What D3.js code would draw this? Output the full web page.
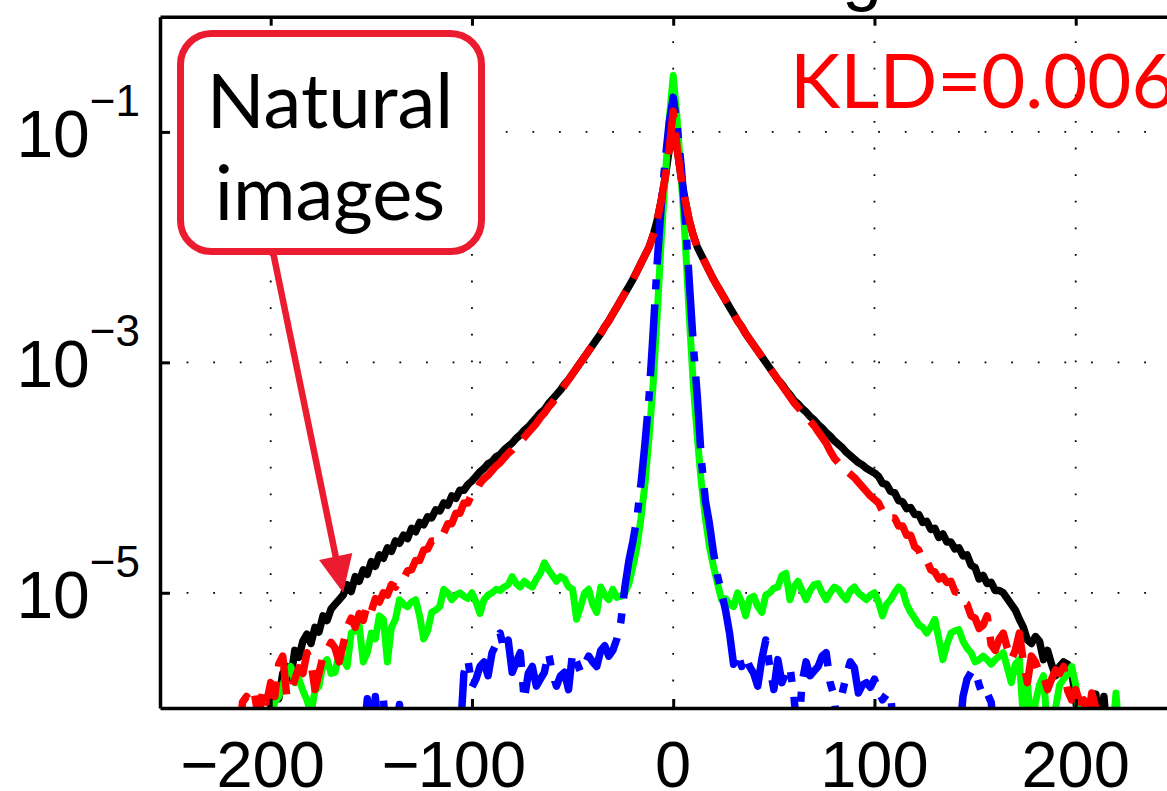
<!DOCTYPE html>
<html>
<head>
<meta charset="utf-8">
<script src="https://cdn.jsdelivr.net/npm/d3@7"></script>
<style>
  html, body { margin: 0; padding: 0; background: #fff; overflow: hidden; }
  svg { display: block; }
</style>
</head>
<body>
<svg id="chart" width="1167" height="791"></svg>
<script>
// Histogram densities of horizontal gradients, stored as log10(density),
// one bin every 2 grey levels. null = empty bin (no line drawn).
const binStep = 2;

// Natural images (black, solid)
const naturalStart = -202;
const naturalLog10 = [
  -6.3,-6.0,-5.84,-5.92,-5.7,-5.64,-5.74,-5.5,-5.56,-5.42,
  -5.36,-5.44,-5.3,-5.34,-5.2,-5.24,-5.14,-5.1,-5.06,-5.02,
  -4.93,-4.99,-4.86,-4.9,-4.8,-4.84,-4.73,-4.77,-4.67,-4.7,
  -4.61,-4.64,-4.55,-4.57,-4.5,-4.53,-4.44,-4.47,-4.39,-4.41,
  -4.34,-4.35,-4.28,-4.29,-4.22,-4.24,-4.16,-4.18,-4.11,-4.11,
  -4.06,-4.03,-3.99,-3.95,-3.92,-3.88,-3.86,-3.82,-3.8,-3.76,
  -3.73,-3.7,-3.66,-3.63,-3.59,-3.56,-3.52,-3.48,-3.44,-3.41,
  -3.36,-3.32,-3.28,-3.24,-3.19,-3.15,-3.1,-3.05,-3.0,-2.95,
  -2.9,-2.85,-2.8,-2.75,-2.69,-2.64,-2.58,-2.52,-2.46,-2.4,
  -2.34,-2.28,-2.21,-2.14,-2.07,-2.0,-1.9,-1.77,-1.6,-1.4,
  -1.15,
  -0.87,
  -1.15,-1.4,-1.6,-1.77,-1.9,-2.0,-2.07,-2.14,-2.21,-2.28,
  -2.34,-2.4,-2.46,-2.52,-2.58,-2.64,-2.69,-2.75,-2.8,-2.85,
  -2.9,-2.95,-3.0,-3.05,-3.1,-3.15,-3.19,-3.24,-3.28,-3.33,
  -3.36,-3.4,-3.43,-3.47,-3.5,-3.54,-3.57,-3.61,-3.64,-3.68,
  -3.71,-3.74,-3.78,-3.81,-3.84,-3.87,-3.89,-3.92,-3.94,-3.96,
  -3.99,-4.05,-4.06,-4.12,-4.13,-4.2,-4.21,-4.27,-4.26,-4.32,
  -4.32,-4.39,-4.38,-4.45,-4.44,-4.52,-4.49,-4.56,-4.56,-4.62,
  -4.61,-4.68,-4.67,-4.76,-4.78,-4.88,-4.85,-4.92,-4.91,-4.98,
  -4.98,-5.0,-5.05,-5.1,-5.15,-5.23,-5.3,-5.41,-5.44,-5.38,
  -5.42,-5.58,-5.5,-5.62,-5.72,-5.64,-5.6,-5.62,-5.68,-5.93,
  -6.2,-6.3,-6.2,-5.95,-5.88,-6.3,-5.9,-6.3
];

// Red model (dashed)
const redStart = -216;
const redLog10 = [
  -6.3,-5.95,-5.9,-5.95,-5.88,-6.1,-5.85,-5.95,-5.78,-5.9,
  -5.62,-5.55,-5.9,-5.85,-5.75,-5.65,-5.7,-5.52,-5.6,-5.84,
  -5.7,-5.55,-5.5,-5.43,-5.48,-5.6,-5.45,-5.3,-5.22,-5.3,
  -5.18,-5.24,-5.1,-5.16,-5.05,-5.08,-5.0,-5.02,-4.93,-4.95,
  -4.88,-4.88,-4.81,-4.8,-4.72,-4.72,-4.63,-4.62,-4.55,-4.55,
  -4.48,-4.48,-4.4,-4.4,-4.31,-4.31,-4.22,-4.22,-4.14,-4.12,
  -4.05,-4.01,-3.98,-3.94,-3.9,-3.87,-3.83,-3.79,-3.76,-3.72,
  -3.69,-3.65,-3.61,-3.57,-3.53,-3.48,-3.44,-3.39,-3.35,-3.3,
  -3.25,-3.2,-3.15,-3.1,-3.05,-3.0,-2.95,-2.9,-2.85,-2.8,
  -2.75,-2.69,-2.64,-2.58,-2.52,-2.46,-2.4,-2.34,-2.28,-2.21,
  -2.14,-2.07,-2.0,-1.9,-1.77,-1.6,-1.4,-1.15,
  -0.82,
  -1.15,-1.4,-1.6,-1.77,-1.9,-2.0,-2.07,-2.14,-2.21,-2.28,
  -2.34,-2.4,-2.46,-2.52,-2.58,-2.64,-2.69,-2.75,-2.8,-2.85,
  -2.9,-2.95,-3.0,-3.05,-3.1,-3.15,-3.2,-3.25,-3.3,-3.35,
  -3.39,-3.43,-3.47,-3.51,-3.55,-3.6,-3.65,-3.7,-3.77,-3.83,
  -3.87,-3.9,-3.94,-3.97,-4.0,-4.04,-4.08,-4.12,-4.16,-4.19,
  -4.22,-4.29,-4.29,-4.35,-4.35,-4.42,-4.42,-4.5,-4.5,-4.6,
  -4.63,-4.72,-4.72,-4.8,-4.82,-4.88,-4.86,-4.91,-4.9,-4.99,
  -5.0,-5.08,-5.1,-5.2,-5.22,-5.31,-5.28,-5.2,-5.45,-5.5,
  -5.4,-5.35,-5.48,-5.58,-5.5,-5.35,-5.6,-5.78,-5.55,-5.6,
  -5.7,-5.72,-5.84,-5.75,-5.67,-5.7,-5.64,-5.85,-5.93,-5.84,
  -5.95,-5.93,-6.1,-5.87,-6.0,-6.3
];

// Green model (solid)
const greenStart = -202;
const greenLog10 = [
  -6.3,-6.1,-5.95,-5.9,-5.8,-5.7,-5.64,-5.78,-5.75,-5.85,
  -5.93,-6.05,-5.85,-5.81,-5.62,-5.58,-5.7,-5.69,-5.52,-5.58,
  -5.64,-5.35,-5.33,-5.29,-5.6,-5.52,-5.35,-5.4,-5.2,-5.23,
  -5.6,-5.3,-5.23,-5.06,-5.1,-5.12,-5.08,-5.06,-5.2,-5.4,
  -5.33,-5.17,-5.15,-5.12,-4.97,-5.0,-5.06,-5.02,-5.0,-5.03,
  -5.05,-5.0,-5.08,-5.18,-5.06,-5.02,-5.0,-4.97,-4.98,-4.95,
  -4.93,-4.86,-4.92,-4.95,-4.9,-4.93,-4.95,-4.88,-4.83,-4.74,
  -4.8,-4.85,-4.9,-4.86,-4.88,-4.95,-4.97,-5.23,-5.12,-5.0,
  -4.97,-5.1,-5.17,-4.95,-5.02,-5.06,-4.97,-5.04,-5.03,-5.0,
  -4.92,-4.77,-4.6,-4.35,-4.05,-3.65,-3.2,-2.6,-1.95,-1.4,
  -0.9,
  -0.51,
  -0.9,-1.4,-1.95,-2.6,-3.2,-3.65,-4.05,-4.35,-4.6,-4.77,
  -4.92,-5.06,-5.05,-5.1,-5.12,-5.0,-5.08,-5.2,-5.05,-5.03,
  -5.12,-5.17,-5.02,-5.0,-4.96,-4.95,-4.85,-4.83,-5.06,-4.95,
  -4.9,-4.98,-5.06,-4.98,-4.93,-4.92,-5.0,-5.06,-5.0,-4.95,
  -4.97,-5.02,-5.06,-4.98,-4.95,-5.0,-5.03,-5.06,-5.02,-5.0,
  -5.08,-5.2,-5.1,-5.06,-5.0,-4.95,-4.98,-5.1,-5.17,-5.22,
  -5.28,-5.3,-5.35,-5.3,-5.23,-5.4,-5.58,-5.45,-5.35,-5.33,
  -5.32,-5.42,-5.48,-5.52,-5.6,-5.58,-5.55,-5.58,-5.62,-5.58,
  -5.55,-5.52,-5.65,-5.78,-5.62,-5.58,-6.1,-5.78,-6.2,-5.95,
  -5.8,-5.72,-6.2,-6.3,-6.0,-5.8,-5.75,-5.7,-5.64,-5.8,
  -6.1,-6.3,null,null,null,null,null,null,-6.3,-5.87,
  -6.3
];

// Blue model (dash-dot)
const blueStart = -156;
const blueLog10 = [
  null,-6.3,-5.92,-6.3,-5.9,-6.3,-5.93,-6.3,null,-6.3,
  -5.97,-6.3,null,null,null,null,null,null,null,null,
  null,null,null,null,null,-6.3,-5.7,-5.58,-5.82,-5.75,
  -5.64,-5.6,-5.72,-5.52,-5.45,-5.35,-5.5,-5.41,-5.69,-5.6,
  -5.52,-5.93,-5.7,-5.64,-5.81,-5.75,-5.69,-5.52,-5.7,-5.81,
  -5.72,-5.69,-5.84,-5.52,-5.6,-5.69,-5.62,-5.55,-5.6,-5.64,
  -5.5,-5.46,-5.55,-5.5,-5.4,-5.25,-4.95,-4.72,-4.55,-4.35,
  -4.05,-3.7,-3.3,-2.75,-2.15,-1.65,-1.25,-0.92,
  -0.70,
  -0.95,-1.3,-1.75,-2.3,-2.85,-3.3,-3.85,-4.2,-4.4,-4.65,
  -4.85,-5.0,-5.15,-5.35,-5.62,-5.52,-5.64,-5.55,-5.64,-5.7,
  -5.81,-5.58,-5.41,-5.64,-5.84,-5.58,-5.78,-5.7,-5.64,-5.9,
  -6.3,-5.78,-5.6,-5.72,-5.68,-5.64,-5.55,-5.52,-5.78,-5.9,
  -6.3,-5.87,-5.72,-5.6,-5.65,-5.87,-5.8,-5.78,-5.82,-5.75,
  -5.85,-5.93,-5.88,-5.87,-6.3,null,null,null,null,null,
  null,null,null,null,null,null,null,null,null,null,
  -6.3,-5.9,-5.75,-5.69,-5.67,-5.8,-5.9,-5.87,-5.95,-6.3
];

const xDomain = [-255, 255];
const yDomain = [1e-6, 1];
const xTicks = [-200, -100, 0, 100, 200];
const yTickExponents = [-1, -3, -5];
const calloutLines = ["Natural", "images"];
const calloutTarget = { g: -164, p: 1e-5 };
const kldLabel = "KLD=0.006";
const titleLabel = "Gradient histogram";

// ---------------------------------------------------------------------------
const svg = d3.select("#chart");
const plot = { left: 160, right: 1186.4, top: 16.7, bottom: 708 };
const x = d3.scaleLinear().domain(xDomain).range([plot.left, plot.right]);
const y = d3.scaleLog().domain(yDomain).range([plot.bottom, plot.top]);

svg.append("rect").attr("width", 1167).attr("height", 791).attr("fill", "#fff");

svg.append("defs").append("clipPath").attr("id", "plot-clip")
  .append("rect")
  .attr("x", plot.left).attr("y", plot.top)
  .attr("width", plot.right - plot.left).attr("height", plot.bottom - plot.top);

// Dotted grid at the labelled ticks
const grid = svg.append("g").attr("stroke", "#000").attr("stroke-width", 1.8)
  .attr("stroke-dasharray", "1.8 24.8").attr("fill", "none");
xTicks.forEach(t => {
  grid.append("line").attr("x1", x(t)).attr("x2", x(t))
    .attr("y1", plot.bottom).attr("y2", plot.top);
});
yTickExponents.forEach(e => {
  grid.append("line").attr("x1", plot.left).attr("x2", plot.right)
    .attr("y1", y(Math.pow(10, e))).attr("y2", y(Math.pow(10, e)));
});

// Curves
function toPoints(start, logs) {
  return logs.map((v, i) => ({ g: start + i * binStep, p: v == null ? null : Math.pow(10, v) }));
}
const line = d3.line()
  .defined(d => d.p != null)
  .x(d => x(d.g))
  .y(d => y(d.p));

const series = [
  { start: naturalStart, logs: naturalLog10, color: "#000000", width: 7.5, dash: null },
  { start: greenStart,   logs: greenLog10,   color: "#00ff00", width: 7,   dash: null },
  { start: blueStart,    logs: blueLog10,    color: "#0000ff", width: 7.5, dash: "72 15 10 15" },
  { start: redStart,     logs: redLog10,     color: "#ff0000", width: 7.5, dash: "50 15" }
];

const curves = svg.append("g").attr("clip-path", "url(#plot-clip)");
series.forEach(s => {
  curves.append("path")
    .datum(toPoints(s.start, s.logs))
    .attr("d", line)
    .attr("fill", "none")
    .attr("stroke", s.color)
    .attr("stroke-width", s.width)
    .attr("stroke-linejoin", "round")
    .attr("stroke-linecap", s.dash ? "butt" : "round")
    .attr("stroke-dasharray", s.dash);
});

// Axes (inward ticks, labels drawn separately)
function styleAxis(g) {
  g.select(".domain").attr("stroke", "#000").attr("stroke-width", 3.5);
  g.selectAll(".tick line").attr("stroke", "#000").attr("stroke-width", 3);
  g.selectAll(".tick text").remove();
}
svg.append("g").attr("transform", `translate(0,${plot.bottom})`)
  .call(d3.axisBottom(x).tickValues(xTicks).tickSize(-9).tickSizeOuter(0).tickFormat(""))
  .call(styleAxis);
svg.append("g").attr("transform", `translate(0,${plot.top})`)
  .call(d3.axisTop(x).tickValues(xTicks).tickSize(-9).tickSizeOuter(0).tickFormat(""))
  .call(styleAxis);
svg.append("g").attr("transform", `translate(${plot.left},0)`)
  .call(d3.axisLeft(y).tickValues(yTickExponents.map(e => Math.pow(10, e))).tickSize(-10).tickSizeOuter(0).tickFormat(""))
  .call(styleAxis);

// Tick labels
const tickFont = "'Liberation Sans', Arial, Helvetica, sans-serif";
const xLabels = svg.append("g").attr("font-family", tickFont).attr("font-size", 65).attr("fill", "#000");
xTicks.forEach(t => {
  const digits = xLabels.append("text")
    .attr("x", x(t)).attr("y", 787).attr("text-anchor", "middle")
    .text(String(Math.abs(t)));
  if (t < 0) {
    const w = digits.node().getComputedTextLength();
    xLabels.append("text")
      .attr("x", x(t) - w / 2 + 2).attr("y", 787).attr("text-anchor", "end")
      .text("\u2212");
  }
});

const yLabels = svg.append("g").attr("font-family", tickFont).attr("font-size", 66).attr("fill", "#000");
yTickExponents.forEach(e => {
  const t = yLabels.append("text")
    .attr("x", 140).attr("y", y(Math.pow(10, e)) + 25).attr("text-anchor", "end");
  t.append("tspan").text("10");
  t.append("tspan").attr("dy", -41).attr("font-size", 44).text("\u2212" + Math.abs(e));
});

// Title (sits above the frame)
const title = svg.append("text")
  .attr("font-family", tickFont).attr("font-size", 72).attr("fill", "#000")
  .attr("y", -3).attr("x", 0).text(titleLabel);
const gIndex = titleLabel.lastIndexOf("g");
const offset = title.node().getSubStringLength(0, gIndex);
title.attr("x", 842 - offset);

// KLD annotation
svg.append("text")
  .attr("font-family", "Lato, 'Open Sans', sans-serif").attr("font-size", 76)
  .attr("fill", "#ff0000").attr("x", 790).attr("y", 108)
  .text(kldLabel);

// Callout box with arrow
const calloutColor = "#ec1c30";
const tip = [x(calloutTarget.g), y(calloutTarget.p)];
const start = [273, 252];
const dx = tip[0] - start[0], dy = tip[1] - start[1];
const len = Math.hypot(dx, dy);
const ux = dx / len, uy = dy / len;
const headLen = 37, headHalf = 17;
const base = [tip[0] - ux * headLen, tip[1] - uy * headLen];

svg.append("line")
  .attr("x1", start[0]).attr("y1", start[1])
  .attr("x2", base[0] + ux * 4).attr("y2", base[1] + uy * 4)
  .attr("stroke", calloutColor).attr("stroke-width", 6.5);
svg.append("polygon")
  .attr("points", [
    [base[0] - uy * headHalf, base[1] + ux * headHalf],
    [base[0] + uy * headHalf, base[1] - ux * headHalf],
    tip
  ].map(p => p.join(",")).join(" "))
  .attr("fill", calloutColor);

svg.append("rect")
  .attr("x", 180.5).attr("y", 33.5).attr("width", 301).attr("height", 218)
  .attr("rx", 31).attr("ry", 31)
  .attr("fill", "#fff").attr("stroke", calloutColor).attr("stroke-width", 7);

const callout = svg.append("g").attr("font-family", "Lato, 'Open Sans', sans-serif")
  .attr("font-size", 76).attr("fill", "#000").attr("text-anchor", "middle");
calloutLines.forEach((s, i) => {
  callout.append("text").attr("x", 330).attr("y", 128 + i * 92).text(s);
});
</script>
</body>
</html>
